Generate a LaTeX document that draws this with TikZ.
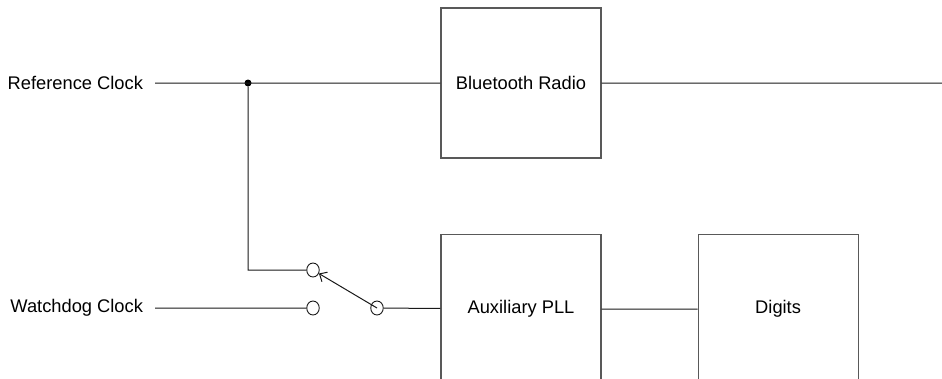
\documentclass[tikz,border=0pt]{standalone}
\usepackage{fontspec}
\setmainfont{Liberation Sans}
\usetikzlibrary{arrows.meta, positioning, shapes.geometric}

\begin{document}
\begin{tikzpicture}[x=1bp, y=-1bp,
    node distance = 75bp and 96bp,
    font=\fontsize{18.3bp}{20bp}\selectfont,
    BX/.style = {draw=black!65, line width=1.1bp,
                    minimum width=160bp, minimum height=150bp,
                    inner sep=0pt, align=center},
    lbl/.style = {anchor=east, inner sep=0pt, outer sep=0pt},
    pin/.style = {ellipse, draw=black!90, line width=0.9bp,
                    minimum width=12.5bp, minimum height=14bp, inner sep=0pt},
    line/.style = {draw=black!90, line width=1bp},
    arm/.style = {line, -{Straight Barb[length=6bp,width=11bp]}}]
%---
\useasboundingbox (0,0) rectangle (942,378);
\clip (0,0) rectangle (942,378);
% top
\node (bt)  [BX] at (521,83)        {Bluetooth Radio};
% bottom
\node (aux) [BX,below=of bt]        {Auxiliary PLL};
\node (dig) [BX,right=of aux]       {Digits};
% inputs
\node (ref) [lbl] at (143,83)       {Reference Clock};
\node (wdg) [lbl] at (143,308)      {Watchdog Clock};
\coordinate (refs) at (155,83);
\coordinate (wdgs) at (155,308);
\coordinate (out)  at (942,83);
% switch
\node (dot) [circle, fill=black, inner sep=0pt, minimum size=7bp] at (248,83) {};
\node (swA) [pin] at (313,270) {};
\node (swB) [pin] at (313,308) {};
\node (swC) [pin] at (377,308) {};
% lines
\draw[line]     (refs) -- (bt)  (bt) -- (out)
                (dot) |- (swA)
                (wdgs) -- (swB)
                (swC) -- (aux)  (aux) -- (dig);
\draw[arm]      (swC.center) -- (swA);
\end{tikzpicture}
\end{document}
